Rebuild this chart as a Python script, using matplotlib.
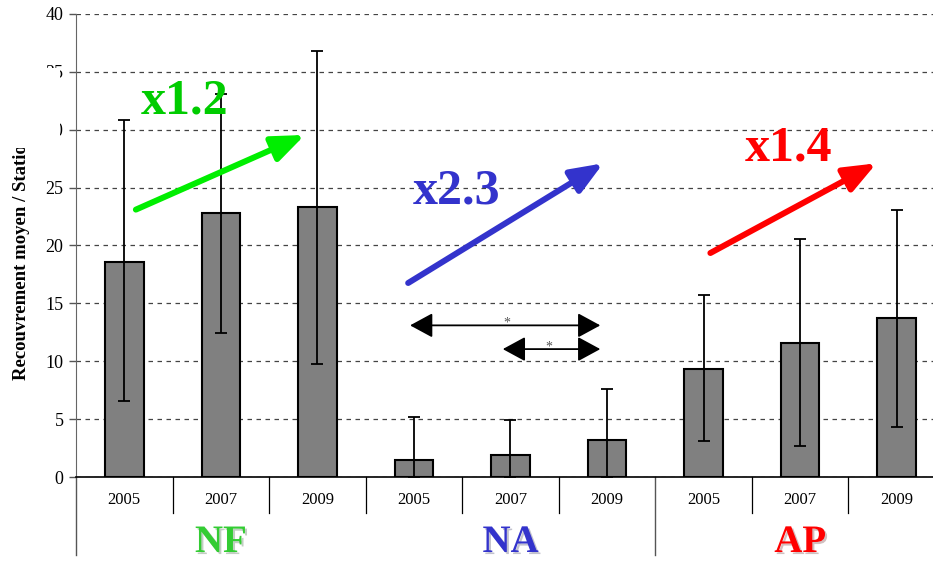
import matplotlib
matplotlib.use('Agg')
import matplotlib.pyplot as plt
from matplotlib.patches import Rectangle
import matplotlib.patheffects as pe

# ---- data ----
years = ['2005', '2007', '2009', '2005', '2007', '2009', '2005', '2007', '2009']
groups = ['NF', 'NA', 'AP']
means = [18.6, 22.8, 23.3, 1.5, 1.9, 3.2, 9.3, 11.6, 13.7]
err_up = [12.2, 10.3, 13.5, 3.7, 3.0, 4.4, 6.4, 9.0, 9.4]
err_low = [12.0, 10.4, 13.5, 1.5, 1.9, 3.2, 6.2, 8.9, 9.4]
factors = ['x1.2', 'x2.3', 'x1.4']
ylabel = 'Recouvrement moyen / Station'

plt.rcParams['font.family'] = ['Liberation Serif', 'DejaVu Serif']

W, H = 933, 561
fig = plt.figure(figsize=(W / 100, H / 100), dpi=100)
ax = fig.add_axes([76 / W, 84 / H, 869 / W, 463 / H])

x = list(range(len(means)))
ax.bar(x, means, width=0.40, color='#808080', edgecolor='black', linewidth=1.5, zorder=3)
ax.errorbar(x, means, yerr=[err_low, err_up], fmt='none', ecolor='black',
            elinewidth=1.3, capsize=4.3, capthick=1.3, zorder=4)

ax.set_xlim(-0.5, 8.5)
ax.set_ylim(0, 40)
ax.set_yticks(range(0, 41, 5))
ax.tick_params(axis='y', labelsize=13, length=5, width=1, color='#555555', pad=4)
ax.set_xticks([])
for s in ['top', 'right']:
    ax.spines[s].set_visible(False)
ax.spines['left'].set_color('#666666')
ax.spines['bottom'].set_color('black')
ax.spines['bottom'].set_linewidth(1.2)
ax.yaxis.grid(True, linestyle=(0, (3.6, 3.6)), color='#444444', linewidth=0.9, zorder=0)
ax.set_axisbelow(True)

tr = ax.get_xaxis_transform()
# separators below axis
for b in [0.5, 1.5, 2.5, 3.5, 4.5, 6.5, 7.5]:
    ax.plot([b, b], [0, -36 / 463], transform=tr, color='black', lw=0.9, clip_on=False)
for b in [-0.5, 5.5]:
    ax.plot([b, b], [0, -78 / 463], transform=tr, color='#555555', lw=1.0, clip_on=False)

for i, yr in enumerate(years):
    ax.annotate(yr, xy=(i, 0), xycoords=tr, xytext=(0, -16.6), textcoords='offset points',
                ha='center', va='center', fontsize=12)

gcols = ['#33cc33', '#3333cc', '#ff0000']
for i, (g, c) in enumerate(zip(groups, gcols)):
    ax.annotate(g, xy=(3 * i + 1, 0), xycoords=tr, xytext=(0, -54), textcoords='offset points',
                ha='center', va='baseline', fontsize=28, fontweight='bold', color=c,
                path_effects=[pe.SimplePatchShadow(offset=(1.5, -1.5), alpha=0.25), pe.Normal()])

# trend arrows
arrows = [((0.12, 23.1), (1.87, 29.55), '#00ee00'),
          ((2.94, 16.76), (4.96, 27.1), '#3333cc'),
          ((6.07, 19.35), (7.79, 27.1), '#ff0000')]
for tail, tip, c in arrows:
    ax.annotate('', xy=tip, xytext=tail,
                arrowprops=dict(arrowstyle='-|>,head_length=0.75,head_width=0.3', mutation_scale=26,
                                lw=4.3, color=c, shrinkA=0, shrinkB=0), zorder=6)

tcols = ['#00cc00', '#3333cc', '#ff0000']
tpos = [(0.62, 32.4), (3.44, 24.7), (6.88, 28.4)]
for f, c, p in zip(factors, tcols, tpos):
    ax.text(p[0], p[1], f, color=c, fontsize=36, fontweight='bold', ha='center', va='center', zorder=7)

# significance arrows
for (x0, x1, yv), (sx, sy) in [((2.96, 4.93, 13.1), (3.96, 13.3)), ((3.92, 4.93, 11.05), (4.4, 11.2))]:
    ax.annotate('', xy=(x1, yv), xytext=(x0, yv),
                arrowprops=dict(arrowstyle='<|-|>,head_length=0.7,head_width=0.38', mutation_scale=20,
                                lw=1.3, color='black', shrinkA=0, shrinkB=0), zorder=6)
    ax.text(sx, sy, '*', color='#555555', fontsize=10, ha='center', va='center', zorder=7)

fig.text(22 / W, 1 - 380 / H, ylabel, rotation=90, ha='center', va='bottom',
         fontsize=13.5, fontweight='bold')

# white cover area as in reference
fig.patches.append(Rectangle((0, 1 - 148 / H), 60 / W, 80 / H, transform=fig.transFigure,
                             facecolor='white', edgecolor='none', zorder=10))

fig.savefig('out.png', dpi=100)
